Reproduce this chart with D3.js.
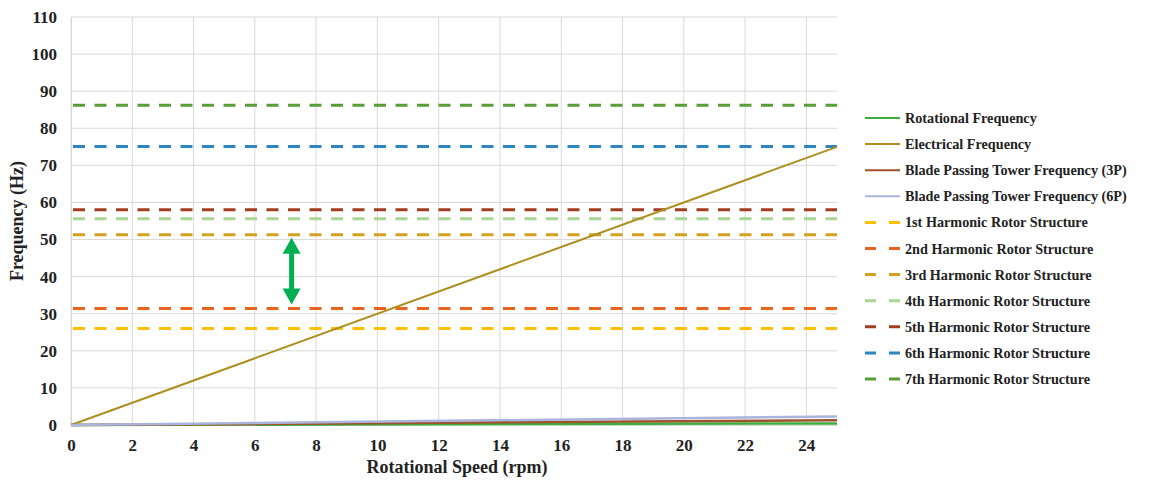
<!DOCTYPE html>
<html>
<head>
<meta charset="utf-8">
<script src="https://cdn.jsdelivr.net/npm/d3@7"></script>
<style>
  body { margin: 0; background: #fff; }
  text { font-family: "Liberation Serif", "Times New Roman", serif; font-weight: bold; fill: #222; }
</style>
</head>
<body>
<script>
// chart data
var rpmPoints = [0, 25];
var lineNames = ["Rotational Frequency", "Electrical Frequency",
  "Blade Passing Tower Frequency (3P)", "Blade Passing Tower Frequency (6P)"];
var lineValues = [
  [0, 0.42],
  [0, 75],
  [0, 1.25],
  [0, 2.3]
];
var lineColors = ["#3cae3c", "#ad8e1e", "#a0522d", "#aab4dc"];

var harmonicNames = ["1st Harmonic Rotor Structure", "2nd Harmonic Rotor Structure",
  "3rd Harmonic Rotor Structure", "4th Harmonic Rotor Structure",
  "5th Harmonic Rotor Structure", "6th Harmonic Rotor Structure",
  "7th Harmonic Rotor Structure"];
var harmonicValues = [26, 31.4, 51.3, 55.6, 58, 75.1, 86.2];
var harmonicColors = ["#ffc000", "#e8641e", "#d4a020", "#a9d692", "#a33d1f", "#2e86c1", "#5a9e3a"];

var xTicks = [0, 2, 4, 6, 8, 10, 12, 14, 16, 18, 20, 22, 24];
var yTicks = [0, 10, 20, 30, 40, 50, 60, 70, 80, 90, 100, 110];

// arrow between 2nd and 3rd harmonics
var arrowX = 7.2;
var arrowFrom = 32.5;
var arrowTo = 50.5;

var width = 1163, height = 481;
var plotLeft = 71, plotRight = 837, plotTop = 17, plotBottom = 425;

var svg = d3.select("body").append("svg")
  .attr("width", width)
  .attr("height", height);

var x = d3.scaleLinear().domain([0, 25]).range([plotLeft, plotRight]);
var y = d3.scaleLinear().domain([0, 110]).range([plotBottom, plotTop]);

// grid
svg.append("g").selectAll("line").data(yTicks).enter().append("line")
  .attr("x1", plotLeft).attr("x2", plotRight)
  .attr("y1", d => y(d)).attr("y2", d => y(d))
  .style("stroke", "#d9d9d9").style("stroke-width", 1);
svg.append("g").selectAll("line").data(xTicks).enter().append("line")
  .attr("x1", d => x(d)).attr("x2", d => x(d))
  .attr("y1", plotTop).attr("y2", plotBottom)
  .style("stroke", "#d9d9d9").style("stroke-width", 1);

// axes
var yAxis = svg.append("g")
  .attr("transform", "translate(" + plotLeft + ",0)")
  .call(d3.axisLeft(y).tickValues(yTicks).tickSize(0).tickPadding(14));
yAxis.select(".domain").style("stroke", "#d9d9d9");
yAxis.selectAll("text").style("font-size", "17px");

var xAxis = svg.append("g")
  .attr("transform", "translate(0," + plotBottom + ")")
  .call(d3.axisBottom(x).tickValues(xTicks).tickSize(0).tickPadding(14));
xAxis.select(".domain").style("stroke", "#d9d9d9");
xAxis.selectAll("text").style("font-size", "17px");

// harmonic dashed lines
svg.append("g").selectAll("line").data(harmonicValues).enter().append("line")
  .attr("x1", x(0) + 2).attr("x2", plotRight)
  .attr("y1", d => y(d)).attr("y2", d => y(d))
  .style("stroke", (d, i) => harmonicColors[i])
  .style("stroke-width", 3)
  .style("stroke-dasharray", "12,9.5");

// frequency lines
var line = d3.line().x((d, i) => x(rpmPoints[i])).y(d => y(d));
svg.append("g").selectAll("path").data(lineValues).enter().append("path")
  .attr("d", d => line(d))
  .style("fill", "none")
  .style("stroke", (d, i) => lineColors[i])
  .style("stroke-width", (d, i) => i == 1 ? 2 : 2.5);

// green double arrow
var ax = x(arrowX), ay1 = y(arrowTo), ay2 = y(arrowFrom);
svg.append("line")
  .attr("x1", ax).attr("x2", ax)
  .attr("y1", ay1 + 10).attr("y2", ay2 - 10)
  .style("stroke", "#00b050").style("stroke-width", 5);
svg.append("path")
  .attr("d", "M" + ax + "," + ay1 + " L" + (ax - 9) + "," + (ay1 + 16) + " L" + (ax + 9) + "," + (ay1 + 16) + " Z")
  .style("fill", "#00b050");
svg.append("path")
  .attr("d", "M" + ax + "," + ay2 + " L" + (ax - 9) + "," + (ay2 - 16) + " L" + (ax + 9) + "," + (ay2 - 16) + " Z")
  .style("fill", "#00b050");

// axis titles
svg.append("text")
  .attr("x", x(12.5) + 3).attr("y", 473)
  .attr("text-anchor", "middle")
  .style("font-size", "18px")
  .text("Rotational Speed (rpm)");
svg.append("text")
  .attr("transform", "translate(23," + (y(55)) + ") rotate(-90)")
  .attr("text-anchor", "middle")
  .style("font-size", "18px")
  .text("Frequency (Hz)");

// legend
var legend = svg.append("g").attr("transform", "translate(865,118)");
var allNames = lineNames.concat(harmonicNames);
var allColors = lineColors.concat(harmonicColors);
var rows = legend.selectAll("g").data(allNames).enter().append("g")
  .attr("transform", (d, i) => "translate(0," + (i * 26.1) + ")");
rows.append("line")
  .attr("x1", 0).attr("x2", 35).attr("y1", 0).attr("y2", 0)
  .style("stroke", (d, i) => allColors[i])
  .style("stroke-width", (d, i) => i < 4 ? 2 : 3)
  .style("stroke-dasharray", (d, i) => i < 4 ? null : "11,13");
rows.append("text")
  .attr("x", 40).attr("y", 5)
  .style("font-size", "14.2px")
  .text(d => d);
</script>
</body>
</html>
